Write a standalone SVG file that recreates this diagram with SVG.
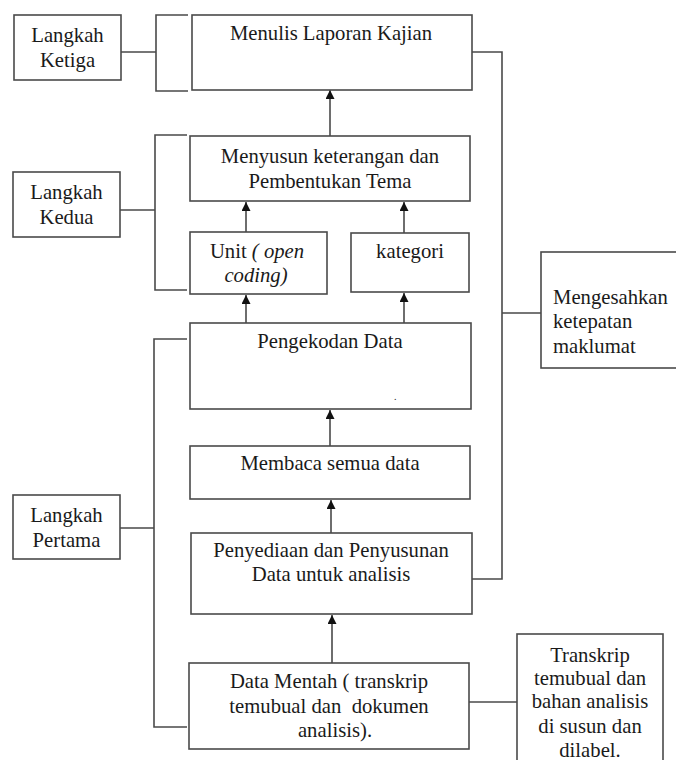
<svg xmlns="http://www.w3.org/2000/svg" width="676" height="760" viewBox="0 0 676 760">
<defs>
<style>
.box{fill:#fff;stroke:#4a4a4a;stroke-width:1.6}
.ln{fill:none;stroke:#4a4a4a;stroke-width:1.6}
text{font-family:"Liberation Serif","Times New Roman","DejaVu Serif",serif;font-size:20.7px;fill:#1a1a1a}
.c{text-anchor:middle}
.i{font-style:italic}
</style>
<marker id="ah" viewBox="0 0 10 10" refX="10" refY="5" markerWidth="9" markerHeight="9" markerUnits="userSpaceOnUse" orient="auto">
<path d="M0,0 L10,5 L0,10 z" fill="#111"/>
</marker>
</defs>
<rect width="676" height="760" fill="#fff"/>
<g id="connectors">
<path class="ln" d="M121,52 H156 M188,15 H156 V91 H188"/>
<path class="ln" d="M120,210 H155 M187,135 H155 V290 H187"/>
<path class="ln" d="M120,528 H154 M187,339 H154 V727 H187"/>
<path class="ln" d="M469,52 H502 V579 H469 M502,313 H541"/>
<path class="ln" d="M469,702 H517"/>
<line class="ln" x1="330" y1="136" x2="330" y2="90" marker-end="url(#ah)"/>
<line class="ln" x1="246" y1="232" x2="246" y2="202" marker-end="url(#ah)"/>
<line class="ln" x1="404" y1="233" x2="404" y2="202" marker-end="url(#ah)"/>
<line class="ln" x1="246" y1="323" x2="246" y2="295" marker-end="url(#ah)"/>
<line class="ln" x1="404" y1="323" x2="404" y2="293" marker-end="url(#ah)"/>
<line class="ln" x1="330" y1="446" x2="330" y2="410" marker-end="url(#ah)"/>
<line class="ln" x1="331" y1="533" x2="331" y2="500" marker-end="url(#ah)"/>
<line class="ln" x1="332" y1="663" x2="332" y2="615" marker-end="url(#ah)"/>
</g>
<g id="langkah-ketiga">
<rect class="box" x="14" y="15" width="107" height="65"/>
<text class="c" x="67.5" y="42">Langkah</text>
<text class="c" x="67.5" y="67">Ketiga</text>
</g>
<g id="menulis">
<rect class="box" x="192" y="15" width="280" height="75"/>
<text class="c" x="331" y="40">Menulis Laporan Kajian</text>
</g>
<g id="langkah-kedua">
<rect class="box" x="13" y="172" width="107" height="65"/>
<text class="c" x="66.5" y="199">Langkah</text>
<text class="c" x="66.5" y="224">Kedua</text>
</g>
<g id="menyusun">
<rect class="box" x="190" y="136" width="280" height="65"/>
<text class="c" x="330" y="163">Menyusun keterangan dan</text>
<text class="c" x="330" y="188">Pembentukan Tema</text>
</g>
<g id="unit">
<rect class="box" x="190" y="232" width="137" height="62"/>
<text class="c" x="257" y="258">Unit <tspan class="i">( open</tspan></text>
<text class="c i" x="256" y="282">coding)</text>
</g>
<g id="kategori">
<rect class="box" x="351" y="233" width="118" height="59"/>
<text class="c" x="410" y="258">kategori</text>
</g>
<g id="pengekodan">
<rect class="box" x="190" y="323" width="281" height="86"/>
<text class="c" x="330" y="348">Pengekodan Data</text>
<text x="394" y="400" style="font-size:10px">.</text>
</g>
<g id="membaca">
<rect class="box" x="190" y="446" width="280" height="53"/>
<text class="c" x="330" y="470">Membaca semua data</text>
</g>
<g id="penyediaan">
<rect class="box" x="191" y="533" width="281" height="81"/>
<text class="c" x="331" y="557">Penyediaan dan Penyusunan</text>
<text class="c" x="331" y="581">Data untuk analisis</text>
</g>
<g id="data-mentah">
<rect class="box" x="189" y="663" width="280" height="86"/>
<text class="c" x="329" y="688">Data Mentah ( transkrip</text>
<text class="c" x="329" y="713" xml:space="preserve">temubual dan  dokumen</text>
<text class="c" x="335" y="737">analisis).</text>
</g>
<g id="langkah-pertama">
<rect class="box" x="13" y="495" width="107" height="64"/>
<text class="c" x="66.5" y="522">Langkah</text>
<text class="c" x="66.5" y="547">Pertama</text>
</g>
<g id="mengesahkan">
<rect class="box" x="541" y="252" width="140" height="116"/>
<text x="553" y="304">Mengesahkan</text>
<text x="553" y="328">ketepatan</text>
<text x="553" y="353">maklumat</text>
</g>
<g id="transkrip">
<rect class="box" x="517" y="634" width="146" height="140"/>
<text class="c" x="590" y="662">Transkrip</text>
<text class="c" x="590" y="685">temubual dan</text>
<text class="c" x="590" y="708">bahan analisis</text>
<text class="c" x="590" y="733">di susun dan</text>
<text class="c" x="590" y="757">dilabel.</text>
</g>
</svg>
